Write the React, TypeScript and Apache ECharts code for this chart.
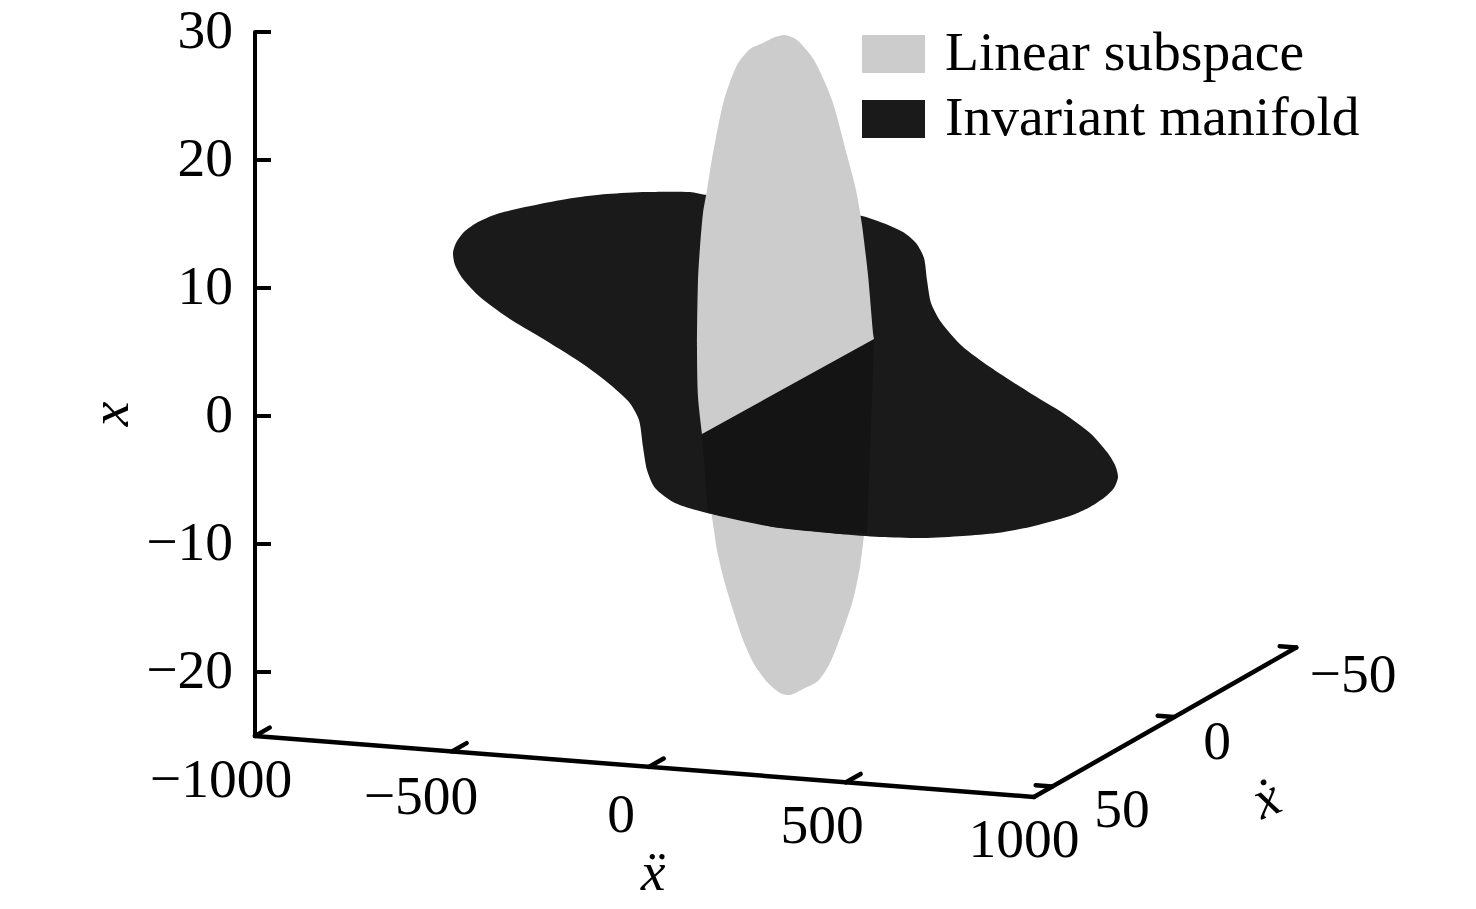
import React, { useEffect, useRef } from "react";
import * as echarts from "echarts";

const SERIF = '"Liberation Serif", "Times New Roman", serif';
const INK = "#000000";
const LIGHT = "#cccccc";
const DARK = "#1a1a1a";
const OVERLAP = "#141414";
const FONT_SIZE = 55.5;

const xTicks = [-20, -10, 0, 10, 20, 30];
const xDoubleDotTicks = [-1000, -500, 0, 500];
const xDoubleDotLabels = [-1000, -500, 0, 500, 1000];
const xDotTicks = [50, 0, -50];
const legendNames = ["Linear subspace", "Invariant manifold"];

// Outlines: [horizontal position, vertical position]
const manifoldOutline = [
  [453, 253], [456, 243], [464, 232], [478, 222], [500, 213], [540, 204], [573, 198], [607, 194], [647, 192],
  [690, 192], [707, 195], [780, 200], [862, 216], [883, 223], [903, 232], [916, 243], [924, 258], [927, 280],
  [931, 303], [941, 322], [962, 346], [990, 367], [1030, 393], [1063, 413], [1090, 433], [1107, 452],
  [1115, 465], [1118, 477], [1114, 488], [1105, 497], [1090, 507], [1070, 516], [1030, 527], [997, 533],
  [963, 536], [923, 538], [880, 537], [840, 534], [773, 527], [707, 513], [675, 503], [655, 488], [647, 470],
  [643, 447], [639, 420], [629, 402], [607, 382], [580, 362], [540, 337], [507, 317], [480, 297], [463, 279],
  [455, 265],
];
const subspaceUpper = [
  [702, 434], [698, 397], [697, 347], [698, 280], [700, 247], [703, 213], [707, 190], [713, 153], [724, 100],
  [737, 65], [750, 49], [763, 43], [775, 37], [785, 35], [797, 40], [814, 60], [832, 100], [847, 155], [856, 190], [862, 225],
  [868, 275], [873, 333], [874, 339],
];
const subspaceLower = [
  [705, 480], [712, 517], [717, 550], [724, 580], [733, 610], [743, 640], [754, 664], [767, 682], [780, 693],
  [790, 695], [803, 689], [818, 681], [830, 663], [843, 630], [853, 600], [860, 567], [864, 535], [870, 480],
];
const overlapRegion = [
  [702, 434], [874, 339], [867, 533], [840, 534], [773, 527], [708, 513],
];

// Projection of the two floor axes
const corner = [255, 736];
const xddPerUnit = [0.394, 0.03085];
const xdPerUnit = [-2.44, 1.39];
const xddEnd = 977;
const xdNear = 57.5;
const floorAt = (xdd: number, xd: number) => [
  corner[0] + xddPerUnit[0] * (xdd + 1000) + xdPerUnit[0] * (xd - xdNear),
  corner[1] + xddPerUnit[1] * (xdd + 1000) + xdPerUnit[1] * (xd - xdNear),
];

const minusText = (v: number) => String(v).replace("-", "\u2212");

const polygonSeries = (name: string, pts: number[][], color: string, kind: string, smooth: number) => ({
  type: "custom",
  name,
  coordinateSystem: "cartesian2d",
  xAxisIndex: 0,
  yAxisIndex: 1,
  silent: true,
  itemStyle: { color },
  data: [0],
  renderItem: (_p: any, api: any) => ({
    type: kind,
    shape: { points: pts.map((q) => api.coord(q)), smooth },
    style: { fill: color, stroke: "none" },
  }),
});

const segSeries = (
  segments: { from: number[]; to: number[] }[],
  texts: { at: number[]; text: string; rotation?: number; italic?: boolean }[],
) => ({
  type: "custom",
  coordinateSystem: "cartesian2d",
  xAxisIndex: 0,
  yAxisIndex: 1,
  silent: true,
  data: [0],
  renderItem: (_p: any, api: any) => ({
    type: "group",
    children: [
      ...segments.map((s) => {
        const a = api.coord(s.from);
        const b = api.coord(s.to);
        return {
          type: "line",
          shape: { x1: a[0], y1: a[1], x2: b[0], y2: b[1] },
          style: { stroke: INK, lineWidth: 4.5, lineCap: "round" },
        };
      }),
      ...texts.map((t) => {
        const a = api.coord(t.at);
        return {
          type: "text",
          x: a[0],
          y: a[1],
          rotation: t.rotation ?? 0,
          style: {
            text: t.text,
            fill: INK,
            font: `${t.italic ? "italic " : ""}${FONT_SIZE}px ${SERIF}`,
            textAlign: "center",
            textVerticalAlign: "middle",
          },
        };
      }),
    ],
  }),
});

const xddLabelAt = [[221, 778], [421, 795], [621, 813], [822, 824], [1024, 838]];
const xdLabelAt = [[1122, 808], [1217, 740], [1353, 673]];

const floorSegments = [
  { from: floorAt(-1000, xdNear), to: floorAt(xddEnd, xdNear) },
  { from: floorAt(xddEnd, xdNear), to: floorAt(xddEnd, -50) },
  ...xDoubleDotTicks.map((v) => ({ from: floorAt(v, xdNear), to: floorAt(v, 51.5) })),
  ...xDotTicks.map((v) => ({ from: floorAt(xddEnd, v), to: floorAt(xddEnd - 42, v) })),
];
const floorTexts = [
  ...xDoubleDotLabels.map((v, i) => ({ at: xddLabelAt[i], text: minusText(v) })),
  ...xDotTicks.map((v, i) => ({ at: xdLabelAt[i], text: minusText(v) })),
  { at: [653, 871], text: "x\u0308", italic: true },
  { at: [1266, 798], text: "x\u0307", italic: true, rotation: 0.4 },
  { at: [109, 414], text: "x", italic: true, rotation: Math.PI / 2 },
];

export default function App() {
  const ref = useRef<HTMLDivElement>(null);
  useEffect(() => {
    if (!ref.current) return;
    const chart = echarts.init(ref.current, undefined, { renderer: "svg" });
    chart.setOption({
      animation: false,
      backgroundColor: "#ffffff",
      grid: { left: 255, right: 0, top: 32, bottom: 173, containLabel: false },
      legend: {
        left: 862,
        top: 23,
        orient: "vertical",
        padding: 0,
        itemGap: 9,
        itemWidth: 63,
        itemHeight: 38,
        icon: "rect",
        data: [
          { name: legendNames[0], itemStyle: { color: LIGHT } },
          { name: legendNames[1], itemStyle: { color: DARK } },
        ],
        formatter: (n: string) => `{t|${n}}`,
        textStyle: {
          fontFamily: SERIF,
          fontSize: FONT_SIZE,
          color: INK,
          padding: [0, 0, 4, 15],
          rich: { t: { fontFamily: SERIF, fontSize: FONT_SIZE, color: INK, padding: [0, 0, 2, 0] } },
        },
      },
      xAxis: { type: "value", min: 255, max: 1476, show: false, splitLine: { show: false } },
      yAxis: [
        {
          type: "value",
          min: -25,
          max: 30,
          interval: 5,
          position: "left",
          splitLine: { show: false },
          axisLine: { show: true, lineStyle: { color: INK, width: 4 } },
          axisTick: { show: true, inside: true, length: 16, customValues: xTicks, lineStyle: { color: INK, width: 4 } },
          axisLabel: {
            customValues: xTicks,
            margin: 22,
            color: INK,
            fontFamily: SERIF,
            fontSize: FONT_SIZE,
            verticalAlign: "bottom",
            lineHeight: 6,
            formatter: (v: number) => minusText(v),
          },
        },
        { type: "value", min: 32, max: 736, inverse: true, show: false, splitLine: { show: false } },
      ],
      series: [
        polygonSeries(legendNames[0], subspaceLower, LIGHT, "polyline", 0.25),
        polygonSeries(legendNames[1], manifoldOutline, DARK, "polygon", 0.25),
        polygonSeries("overlap", overlapRegion, OVERLAP, "polygon", 0),
        polygonSeries(legendNames[0], subspaceUpper, LIGHT, "polyline", 0.25),
        segSeries(floorSegments, floorTexts),
      ],
    });
    return () => chart.dispose();
  }, []);
  return <div ref={ref} style={{ position: "absolute", left: 0, top: 0, width: 1476, height: 909 }} />;
}
